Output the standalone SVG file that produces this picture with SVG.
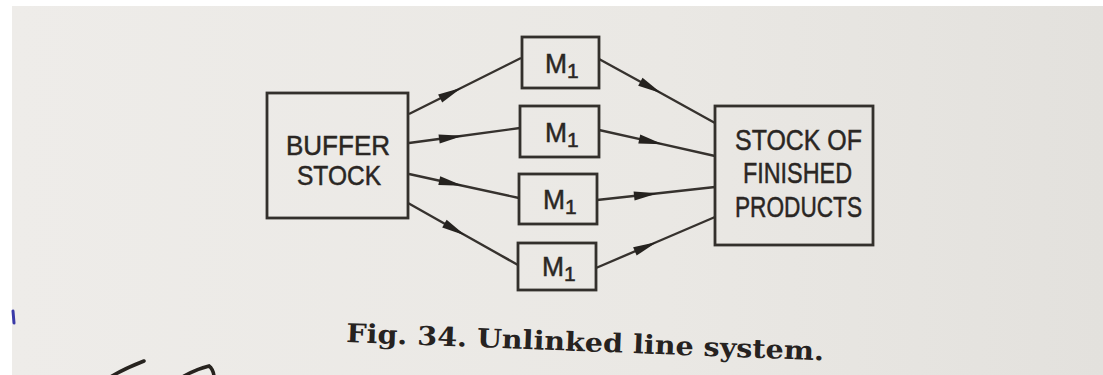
<svg xmlns="http://www.w3.org/2000/svg" width="1103" height="375" viewBox="0 0 1103 375">
  <defs>
    <linearGradient id="paper" x1="0" y1="0" x2="1" y2="0">
      <stop offset="0" stop-color="#eeece9"/>
      <stop offset="0.6" stop-color="#eae8e4"/>
      <stop offset="1" stop-color="#e3e1dd"/>
    </linearGradient>
    <marker id="head" viewBox="-12 -6 28 12" markerWidth="28" markerHeight="12" refX="0" refY="0" orient="auto" markerUnits="userSpaceOnUse">
      <path d="M-11,-4.5 L13,0 L-11,4.5 z" fill="#25221f"/>
    </marker>
    <style>
      .box { fill: none; stroke: #33302c; stroke-width: 2.8; }
      .lbl { font-family: "Liberation Sans", Arial, sans-serif; fill: #2a2623; stroke: #2a2623; stroke-width: 0.5; }
      .m { font-size: 28px; }
      .sub { font-size: 21px; }
      .link { fill: none; stroke: #36322e; stroke-width: 2.4; marker-mid: url(#head); }
      .cap { font-family: "DejaVu Serif", "Liberation Serif", serif; font-weight: bold; font-size: 26px; fill: #262220; }
    </style>
  </defs>

  <!-- page -->
  <rect x="0" y="0" width="1103" height="375" fill="#ffffff"/>
  <rect x="12" y="6" width="1091" height="369" fill="url(#paper)"/>

  <!-- connectors -->
  <g id="connectors">
    <path class="link" d="M409,114 L450,93.5 L521,58"/>
    <path class="link" d="M409,143 L450,137.5 L520,128"/>
    <path class="link" d="M409,174 L450,183 L519,198"/>
    <path class="link" d="M408,203 L454,229 L518,265"/>
    <path class="link" d="M599,59 L650,87 L715,123"/>
    <path class="link" d="M599,130 L650,141.4 L715,156"/>
    <path class="link" d="M597,200 L645,194.7 L715,187"/>
    <path class="link" d="M596,268 L645,247 L715,217"/>
  </g>

  <g id="buffer-stock">
    <rect class="box" x="267" y="93" width="141" height="125"/>
    <text class="lbl" x="286" y="155" font-size="28" textLength="104" lengthAdjust="spacingAndGlyphs">BUFFER</text>
    <text class="lbl" x="297" y="185" font-size="28" textLength="84" lengthAdjust="spacingAndGlyphs">STOCK</text>
  </g>

  <g id="machine-1">
    <rect class="box" x="522" y="37" width="77" height="51"/>
    <text class="lbl m" x="545" y="73" textLength="22" lengthAdjust="spacingAndGlyphs">M</text>
    <text class="lbl sub" x="567" y="78">1</text>
  </g>

  <g id="machine-2">
    <rect class="box" x="520" y="106" width="79" height="51"/>
    <text class="lbl m" x="545" y="142" textLength="22" lengthAdjust="spacingAndGlyphs">M</text>
    <text class="lbl sub" x="567" y="147">1</text>
  </g>

  <g id="machine-3">
    <rect class="box" x="519" y="174" width="78" height="50"/>
    <text class="lbl m" x="543" y="209" textLength="22" lengthAdjust="spacingAndGlyphs">M</text>
    <text class="lbl sub" x="565" y="214">1</text>
  </g>

  <g id="machine-4">
    <rect class="box" x="518" y="243" width="78" height="47"/>
    <text class="lbl m" x="542" y="276" textLength="22" lengthAdjust="spacingAndGlyphs">M</text>
    <text class="lbl sub" x="564" y="281">1</text>
  </g>

  <g id="finished-stock">
    <rect class="box" x="715" y="106" width="158" height="139"/>
    <text class="lbl" x="735" y="150" font-size="30" textLength="127" lengthAdjust="spacingAndGlyphs">STOCK  OF</text>
    <text class="lbl" x="743" y="183" font-size="30" textLength="109" lengthAdjust="spacingAndGlyphs">FINISHED</text>
    <text class="lbl" x="735" y="217" font-size="30" textLength="127" lengthAdjust="spacingAndGlyphs">PRODUCTS</text>
  </g>

  <!-- caption -->
  <text class="cap" x="346" y="342" textLength="478" lengthAdjust="spacingAndGlyphs" transform="rotate(2.2 346 342)">Fig. 34. Unlinked line system.</text>

  <!-- pen marks near the lower margin -->
  <g fill="none" stroke-linecap="round">
    <path d="M112,376 Q126,368 144,361" stroke="#27231f" stroke-width="3.5"/>
    <path d="M184,376 Q197,369 209,366 Q213,369 214,376" stroke="#27231f" stroke-width="3.5"/>
    <path d="M13,311 L14,323" stroke="#3a3aa8" stroke-width="3"/>
  </g>
</svg>
